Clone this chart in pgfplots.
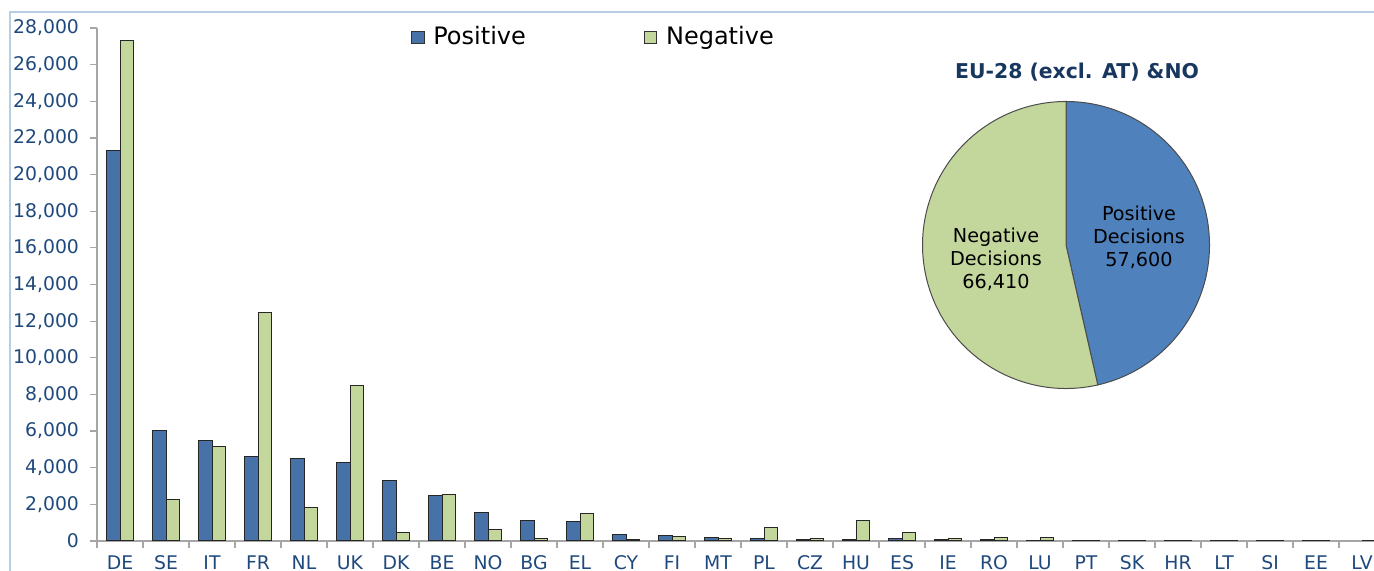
\documentclass[border=0pt]{standalone}
\usepackage{fontspec}
\setmainfont{DejaVu Sans}
\usepackage{pgfplots}
\pgfplotsset{compat=1.18}
\usepackage{pgfplotstable}
\definecolor{barblue}{RGB}{70,114,168}
\definecolor{pieblue}{RGB}{79,129,189}
\definecolor{ngreen}{RGB}{195,214,155}
\definecolor{txtblue}{RGB}{31,73,125}
\definecolor{titleblue}{RGB}{23,55,94}
\definecolor{framec}{RGB}{185,205,229}
\definecolor{axc}{RGB}{166,166,166}

\pgfplotstableread{
x pos neg
0 21320 27300
1 6010 2240
2 5470 5170
3 4620 12450
4 4510 1840
5 4280 8470
6 3280 440
7 2480 2530
8 1580 640
9 1100 110
10 1050 1490
11 330 90
12 290 240
13 200 110
14 150 750
15 90 150
16 90 1100
17 110 440
18 90 150
19 90 165
20 50 165
21 40 30
22 30 30
23 30 30
24 30 30
25 30 30
26 30 30
27 nan 30
}\data

\def\posval{57600}
\def\negval{66410}

\begin{document}
\begin{tikzpicture}[x=0.5pt,y=0.5pt]
\useasboundingbox (0,0) rectangle (1374,571);
\clip (0,0) rectangle (1374,571);
\draw[framec, line width=1pt] (9.5,-20) -- (9.5,559.3) -- (1400,559.3);
\begin{axis}[
  at={(48.5pt,15pt)}, anchor=south west,
  scale only axis, width=638.5pt, height=256.5pt,
  xmin=-0.5, xmax=27.26, ymin=0, ymax=28000,
  axis lines*=left,
  axis line style={axc, line width=0.6pt},
  ybar=0pt, bar width=6.65pt,
  xtick={0,...,27},
  xticklabels={DE,SE,IT,FR,NL,UK,DK,BE,NO,BG,EL,CY,FI,MT,PL,CZ,HU,ES,IE,RO,LU,PT,SK,HR,LT,SI,EE,LV},
  minor xtick={-0.5,0.5,...,27.5},
  major x tick style={draw=none},
  minor tick length=3.5pt, major tick length=3.5pt,
  tick align=outside,
  tick style={axc, line width=0.6pt},
  ytick={0,2000,...,28000},
  scaled y ticks=false,
  yticklabel style={/pgf/number format/1000 sep={,}, xshift=-2pt},
  /pgf/number format/assume math mode=true,
  ticklabel style={font=\fontsize{9.4}{11}\selectfont, text=txtblue},
  xticklabel style={anchor=base, inner sep=0pt, yshift=-11pt},
  legend columns=2,
  legend style={at={(axis description cs:0.2457,0.982)}, anchor=west, draw=none, fill=none,
    font=\fontsize{12}{14}\selectfont, inner sep=0pt,
    /tikz/every odd column/.append style={column sep=2.5pt},
    /tikz/every even column/.append style={column sep=57pt}},
  legend image code/.code={\draw[#1, draw=black!80, line width=0.4pt] (0pt,-3.1pt) rectangle (6.2pt,3.1pt);},
]
\addplot[fill=barblue, draw=black!85, line width=0.5pt] table[x=x,y=pos]{\data};
\addplot[fill=ngreen, draw=black!85, line width=0.5pt] table[x=x,y=neg]{\data};
\legend{Positive,Negative}
\end{axis}
\edef\pa{\fpeval{90-360*\posval/(\posval+\negval)}}
\filldraw[fill=pieblue, draw=black!70, line width=0.5pt] (1066,326) -- ++(90:71.75pt) arc[start angle=90, end angle=\pa, radius=71.75pt] -- cycle;
\filldraw[fill=ngreen, draw=black!70, line width=0.5pt] (1066,326) -- ++(\pa:71.75pt) arc[start angle=\pa, end angle=-270, radius=71.75pt] -- cycle;
\node[font=\fontsize{9.6}{11.5}\selectfont, align=center] at (1139,333.5) {Positive\\Decisions\\57,600};
\node[font=\fontsize{9.6}{11.5}\selectfont, align=center] at (996,312) {Negative\\Decisions\\66,410};
\node[font=\bfseries\fontsize{10.2}{12}\selectfont, text=titleblue] at (1077,499) {EU-28 (excl. AT) \&NO};
\end{tikzpicture}
\end{document}
